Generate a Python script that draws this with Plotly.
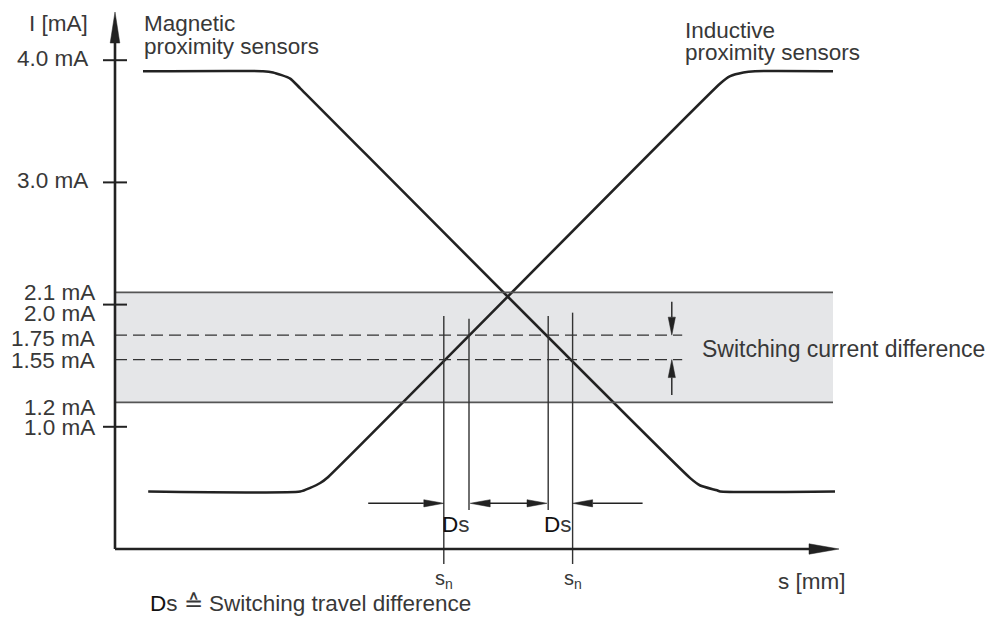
import plotly.graph_objects as go

# ---------------- data (s in mm, I in mA; schematic) ----------------
magnetic_s = [0.70, 3.70, 3.95, 4.38, 4.63, 14.38, 14.63, 15.05, 15.13, 18.00]
magnetic_I = [3.91, 3.91, 3.90, 3.85, 3.77, 0.58, 0.52, 0.48, 0.47, 0.47]

inductive_s = [0.83, 4.63, 4.88, 5.13, 5.33, 15.13, 15.38, 15.71, 16.00, 17.95]
inductive_I = [0.47, 0.47, 0.50, 0.54, 0.59, 3.81, 3.87, 3.90, 3.91, 3.91]

tick_values = [4.0, 3.0, 2.0, 1.0]
label_values = [4.0, 3.0, 2.1, 2.0, 1.75, 1.55, 1.2, 1.0]
label_texts = ["4.0 mA", "3.0 mA", "2.1 mA", "2.0 mA", "1.75 mA", "1.55 mA", "1.2 mA", "1.0 mA"]
label_shift = [2, 2, 0, -9, -3, -1, -5, -1]      # px nudges of the crowded labels
label_right = [-0.62, -0.62, -0.45, -0.45, -0.45, -0.45, -0.45, -0.45]

band_low, band_high = 1.2, 2.1          # switching current band
switch_levels = [1.75, 1.55]            # dashed switching currents
sn_positions = [8.22, 11.44]            # s_n switching points
ds_inner = [8.85, 10.83]                # other ends of the switching travel difference
line_tops = [1.907, 1.885, 1.907, 1.934]  # tops of vertical lines (sn1, in1, in2, sn2)

# ---------------- geometry helpers ----------------
PX_S = 40.0      # px per s unit
PX_I = 122.2     # px per mA
S_MIN, S_MAX = -115 / PX_S, 878 / PX_S
I_MIN, I_MAX = -70 / PX_I, 549 / PX_I

INK = "#222222"
FONT = dict(family="Liberation Sans, Arial, sans-serif", size=22.5, color="#383838")

fig = go.Figure()
shapes = []
annotations = []


def line(x0, y0, x1, y1, color=INK, width=2.4, dash=None):
    d = dict(type="line", x0=x0, y0=y0, x1=x1, y1=y1, xref="x", yref="y",
             line=dict(color=color, width=width))
    if dash:
        d["line"]["dash"] = dash
    shapes.append(d)


def head(tx, ty, direction, length, half, color=INK):
    """filled triangular arrowhead; tip at (tx,ty)"""
    ls, lh = length / PX_S, half / PX_S
    li, hi = length / PX_I, half / PX_I
    if direction == "up":
        pts = [(tx, ty), (tx - lh, ty - li), (tx + lh, ty - li)]
    elif direction == "down":
        pts = [(tx, ty), (tx - lh, ty + li), (tx + lh, ty + li)]
    elif direction == "right":
        pts = [(tx, ty), (tx - ls, ty + hi), (tx - ls, ty - hi)]
    else:
        pts = [(tx, ty), (tx + ls, ty + hi), (tx + ls, ty - hi)]
    path = "M " + " L ".join(f"{x},{y}" for x, y in pts) + " Z"
    shapes.append(dict(type="path", path=path, xref="x", yref="y",
                       fillcolor=color, line=dict(color=color, width=0.5)))


def text(x, y, t, xanchor="center", yanchor="middle", size=None, xshift=0, yshift=0, color=None):
    f = dict(FONT)
    if size:
        f["size"] = size
    if color:
        f["color"] = color
    annotations.append(dict(x=x, y=y, xref="x", yref="y", text=t, showarrow=False,
                            xanchor=xanchor, yanchor=yanchor, font=f,
                            xshift=xshift, yshift=yshift, align="left"))


# ---------------- band ----------------
band_right = 17.95
shapes.append(dict(type="rect", x0=0, x1=band_right, y0=band_low, y1=band_high,
                   xref="x", yref="y", fillcolor="#e5e6e8", line=dict(width=0), layer="below"))
line(0, band_high, band_right, band_high, color="#555555", width=1.6)
line(0, band_low, band_right, band_low, color="#555555", width=1.6)

# dashed switching levels
dash_end = 14.18
for lv in switch_levels:
    line(0, lv, dash_end, lv, color="#333333", width=1.3, dash="12px,6px")

# ---------------- curves ----------------
fig.add_trace(go.Scatter(x=magnetic_s, y=magnetic_I, mode="lines",
                         line=dict(color=INK, width=2.6, shape="spline", smoothing=0.5),
                         hoverinfo="skip", showlegend=False))
fig.add_trace(go.Scatter(x=inductive_s, y=inductive_I, mode="lines",
                         line=dict(color=INK, width=2.6, shape="spline", smoothing=0.5),
                         hoverinfo="skip", showlegend=False))

# ---------------- vertical lines for switching points ----------------
outer_bottom = -15 / PX_I
inner_bottom = 0.319
line(sn_positions[0], outer_bottom, sn_positions[0], line_tops[0], color="#333333", width=1.4)
line(ds_inner[0], inner_bottom, ds_inner[0], line_tops[1], color="#333333", width=1.4)
line(ds_inner[1], inner_bottom, ds_inner[1], line_tops[2], color="#333333", width=1.4)
line(sn_positions[1], outer_bottom, sn_positions[1], line_tops[3], color="#333333", width=1.4)

# ---------------- horizontal Ds arrows ----------------
arr_I = 0.374
arr_len, arr_half = 20, 3.6
line(6.33, arr_I, sn_positions[0] - arr_len / PX_S, arr_I, width=1.4)
head(sn_positions[0], arr_I, "right", arr_len, arr_half)
line(ds_inner[0] + arr_len / PX_S, arr_I, ds_inner[1] - arr_len / PX_S, arr_I, width=1.4)
head(ds_inner[0] + 0.03, arr_I, "left", arr_len, arr_half)
head(ds_inner[1] - 0.03, arr_I, "right", arr_len, arr_half)
line(13.19, arr_I, sn_positions[1] + arr_len / PX_S, arr_I, width=1.4)
head(sn_positions[1], arr_I, "left", arr_len, arr_half)

# ---------------- vertical switching-current arrows ----------------
va_s = 13.92
va_len, va_half = 18, 3.6
line(va_s, 2.024, va_s, switch_levels[0] + va_len / PX_I, width=1.4)
head(va_s, switch_levels[0], "down", va_len, va_half)
line(va_s, 1.26, va_s, switch_levels[1] - va_len / PX_I, width=1.4)
head(va_s, switch_levels[1], "up", va_len, va_half)

# ---------------- axes ----------------
y_tip = 537 / PX_I
x_tip = 724 / PX_S
line(0, 0, 0, y_tip - 25 / PX_I, width=2.6)
head(0, y_tip, "up", 31, 4.8)
line(0, 0, x_tip - 25 / PX_S, 0, width=2.6)
head(x_tip, 0, "right", 30, 5.2)
for tv in tick_values:
    line(-12 / PX_S, tv, 12 / PX_S, tv, width=2.0)

# ---------------- texts ----------------
for v, t, sh, xr in zip(label_values, label_texts, label_shift, label_right):
    text(xr, v, t, xanchor="right", yshift=sh)

text(-0.63, 4.30, "I [mA]", xanchor="right")
text(0.67, 4.30, "Magnetic", xanchor="left")
text(0.67, 4.115, "proximity sensors", xanchor="left")
text(14.2, 4.245, "Inductive", xanchor="left")
text(14.2, 4.065, "proximity sensors", xanchor="left")
text(14.62, (switch_levels[0] + switch_levels[1]) / 2, "Switching current difference",
     xanchor="left", size=23, yshift=-2)
text(18.33, -0.27, "s [mm]", xanchor="right")
for sp in sn_positions:
    text(sp, -0.25, "s<sub>n</sub>", size=20)
text((sn_positions[0] + ds_inner[0]) / 2, 0.20, "<span style='color:#111'>D</span>s")
text((ds_inner[1] + sn_positions[1]) / 2 - 0.07, 0.20, "<span style='color:#111'>D</span>s")
text(0.83, -0.45, "<span style='color:#111'>D</span>s \u2259 Switching travel difference",
     xanchor="left")

fig.update_layout(
    width=993, height=619, autosize=False,
    margin=dict(l=0, r=0, t=0, b=0),
    paper_bgcolor="white", plot_bgcolor="white",
    xaxis=dict(range=[S_MIN, S_MAX], visible=False, fixedrange=True),
    yaxis=dict(range=[I_MIN, I_MAX], visible=False, fixedrange=True),
    shapes=shapes, annotations=annotations, showlegend=False,
)

fig.write_html("out.html", config={"displayModeBar": False},
               post_script="document.body.style.margin='0px';document.body.style.overflow='hidden';")
